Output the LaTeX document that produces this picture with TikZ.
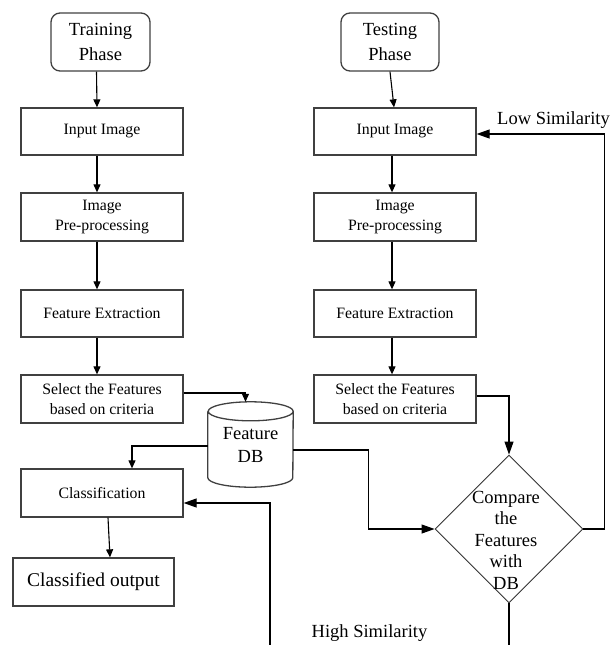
\documentclass[tikz,border=0pt]{standalone}
\usepackage{fontspec}
\setmainfont{Liberation Serif}
\usetikzlibrary{arrows.meta,shapes.geometric}
\begin{document}
\begin{tikzpicture}[x=1pt,y=-1pt,
 box/.style={draw=black!75,line width=1.3pt,minimum width=162pt,minimum height=48pt,inner sep=0pt,align=center,font=\fontsize{15.8}{20}\selectfont},
 phase/.style={draw=black!75,line width=1.3pt,rounded corners=9pt,minimum width=99pt,minimum height=58pt,inner sep=0pt,align=center,font=\fontsize{18.5}{25}\selectfont},
 arr/.style={line width=1.1pt,-{Triangle[length=8pt,width=7pt]}},
 bigarr/.style={line width=1.1pt,-{Triangle[length=13pt,width=9pt]}},
 ln/.style={line width=1.1pt},
 lbl/.style={font=\fontsize{18.5}{22}\selectfont,inner sep=0pt,anchor=base}]
\useasboundingbox (0,0) rectangle (611,645);
% training column
\node[phase] (tp) at (100.5,42) {Training\\Phase};
\node[box,minimum height=47pt] (ti) at (102,131.5) {Input Image};
\node[box] (tpre) at (102,217) {Image\\Pre-processing};
\node[box,minimum height=47pt] (tfe) at (102,313.5) {Feature Extraction};
\node[box] (tsel) at (102,399) {Select the Features\\based on criteria};
\node[box] (cls) at (102,493) {Classification};
\node[box,minimum width=161pt,font=\fontsize{19.5}{22}\selectfont] (out) at (93.5,582) {Classified output};
% testing column
\node[phase,minimum width=98pt] (sp) at (390,42) {Testing\\Phase};
\node[box,minimum height=47pt] (si) at (395,131.5) {Input Image};
\node[box] (spre) at (395,217) {Image\\Pre-processing};
\node[box,minimum height=47pt] (sfe) at (395,313.5) {Feature Extraction};
\node[box] (ssel) at (395,399) {Select the Features\\based on criteria};
% database
\node[minimum width=85pt,minimum height=85pt,inner sep=0pt,align=center,font=\fontsize{18.5}{23}\selectfont] (db) at (250.5,444.5) {Feature\\DB};
\draw[line width=1.3pt,draw=black!75] ([yshift=-9.5pt]db.north west) -- ([yshift=9.5pt]db.south west)
  arc[start angle=180,end angle=360,x radius=42.5pt,y radius=9.5pt]
  -- ([yshift=-9.5pt]db.north east)
  arc[start angle=0,end angle=180,x radius=42.5pt,y radius=9.5pt]
  arc[start angle=180,end angle=360,x radius=42.5pt,y radius=9.5pt];
% decision
\node[diamond,draw=black!80,line width=0.9pt,minimum width=148pt,minimum height=148pt,inner sep=0pt,
  label={[align=center,font=\fontsize{18.5}{21.5}\selectfont,yshift=-11pt,xshift=-3pt]center:Compare\\the\\Features\\with\\DB}] (cmp) at (509,529) {};
% labels
\node[lbl] (low) at (553.5,124) {Low Similarity};
\node[lbl] (high) at (369.5,637) {High Similarity};
\coordinate (hsend) at (509,645);
\coordinate (hsstart) at (270,645);
% connectors training
\draw[arr] ([xshift=-4pt]tp.south) -- ([xshift=-5pt]ti.north);
\draw[arr] ([xshift=-5pt]ti.south) -- ([xshift=-5pt]tpre.north);
\draw[arr] ([xshift=-5pt]tpre.south) -- ([xshift=-5pt]tfe.north);
\draw[arr] ([xshift=-5pt]tfe.south) -- ([xshift=-5pt]tsel.north);
\draw[arr] ([yshift=6pt]tsel.east) -| ([xshift=-5pt]db.north);
\draw[arr] ([yshift=-1.5pt]db.west) -| ([xshift=30pt]cls.north);
\draw[arr] ([xshift=6pt]cls.south) -- ([xshift=16.5pt]out.north);
% connectors testing
\draw[arr] (sp.south) -- ([xshift=-1pt]si.north);
\draw[arr] ([xshift=-3pt]si.south) -- ([xshift=-3pt]spre.north);
\draw[arr] ([xshift=-3pt]spre.south) -- ([xshift=-3pt]sfe.north);
\draw[arr] ([xshift=-3pt]sfe.south) -- ([xshift=-3pt]ssel.north);
\draw[bigarr] ([yshift=3pt]ssel.east) -| (cmp.north);
\draw[bigarr] ([yshift=-5.5pt]db.east) -- ++(75,0) |- (cmp.west);
\draw[bigarr] (cmp.east) -- ++(21,0) |- ([yshift=-2.5pt]si.east);
\draw[ln] (cmp.south) -- (hsend);
\draw[bigarr] (hsstart) |- ([yshift=-10pt]cls.east);
\end{tikzpicture}
\end{document}
